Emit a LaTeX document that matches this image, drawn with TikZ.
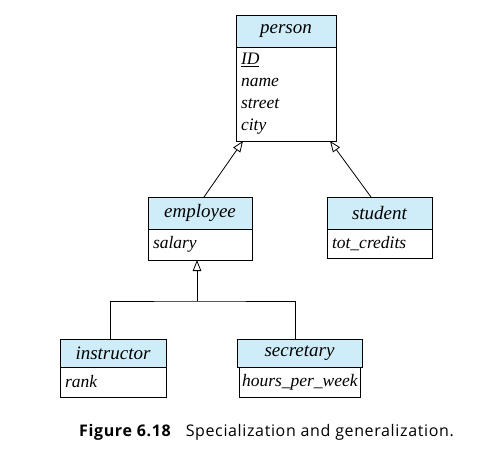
\documentclass[tikz,border=0pt]{standalone}
\usepackage{fontspec}
\setmainfont{Liberation Serif}
\newfontfamily\capfont[LetterSpace=4]{Open Sans}
\usepackage{tikz}
\usetikzlibrary{positioning, arrows.meta}
\definecolor{headblue}{RGB}{207,237,248}

\begin{document}
\begin{tikzpicture}[
            x=1pt, y=-1pt,
            line width=0.8pt,
            entity/.style={draw, fill=headblue, minimum width=#1, inner sep=0pt, outer sep=0pt,
                font=\itshape\fontsize{19}{23}\selectfont},
            attrs/.style={draw, text width=#1, align=left, inner xsep=5pt, inner ysep=0pt, outer sep=0pt,
                font=\itshape\fontsize{17.5}{21}\selectfont},
            gen/.style={-{Triangle[open, length=11pt, width=8.5pt]}},
        ]
            \useasboundingbox (0,0) rectangle (485,468);
            \node[entity=100pt, minimum height=32pt] (person) at (286,31) {person};
            \node[attrs=90pt, minimum height=94pt, below=0pt of person] (personattr)
                {\underline{ID}\\[1pt] name\\[1pt] street\\[1pt] city};
            \node[entity=104pt, minimum height=32pt] (employee) at (200,213) {employee};
            \node[attrs=94pt, minimum height=31pt, below=0pt of employee] (employeeattr) {salary};
            \node[entity=105pt, minimum height=32pt] (student) at (379.5,213) {student};
            \node[attrs=95pt, minimum height=29pt, below=0pt of student] (studentattr) {tot\_credits};
            \node[entity=106pt, minimum height=28pt] (instructor) at (113,353) {instructor};
            \node[attrs=96pt, minimum height=30pt, below=0pt of instructor] (instructorattr) {rank};
            \node[entity=125pt, minimum height=28pt] (secretary) at (299.5,353) {secretary};
            \node[attrs=115pt, minimum height=30pt, inner xsep=3pt, below=0pt of secretary] (secretaryattr)
                {hours\_per\_week};
            \coordinate (fork) at ([xshift=-3pt, yshift=-41pt]employeeattr.south);

            \draw[gen] ([xshift=4pt]employee.north) -- ([xshift=7pt]personattr.south west);
            \draw[gen] ([xshift=-8.5pt]student.north) -- ([xshift=-6pt]personattr.south east);
            \draw ([xshift=-3pt]instructor.north) |- (fork) -| ([xshift=-4.5pt]secretary.north);
            \draw[gen] (fork) -- ([xshift=-3pt]employeeattr.south);

            \node[font=\capfont\fontsize{16}{19}\selectfont] (caption) at (266.5,432)
                {\textbf{Figure 6.18}\hspace{0.9em}Specialization and generalization.};
        \end{tikzpicture}
\end{document}
